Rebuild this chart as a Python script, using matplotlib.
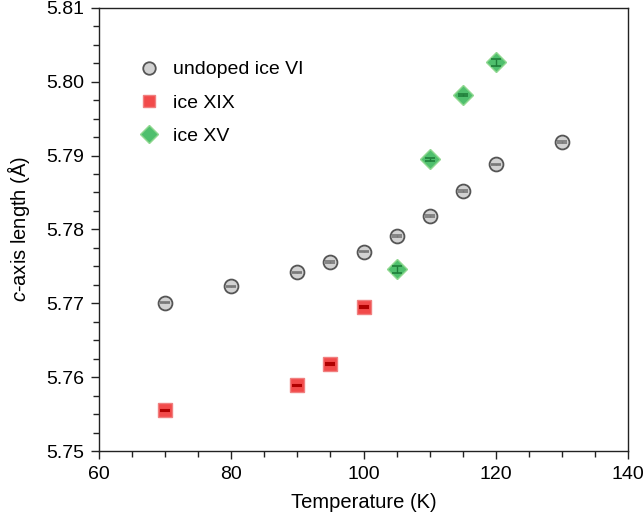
import numpy as np
import matplotlib
matplotlib.use("Agg")
import matplotlib.pyplot as plt
from matplotlib.ticker import MultipleLocator

plt.rcParams['font.family'] = ['Liberation Sans', 'DejaVu Sans']
plt.rcParams['mathtext.fontset'] = 'custom'
plt.rcParams['mathtext.rm'] = 'Liberation Sans'
plt.rcParams['mathtext.it'] = 'Liberation Sans:italic'

# ---- data ----
t_vi = [70, 80, 90, 95, 100, 105, 110, 115, 120, 130]
c_vi = [5.7701, 5.7723, 5.7742, 5.7756, 5.7770, 5.7791, 5.7818, 5.7852, 5.7888, 5.7918]
e_vi = [0.0001, 0.0001, 0.0001, 0.0001, 0.0001, 0.0001, 0.0001, 0.0001, 0.0001, 0.0001]

t_xix = [70, 90, 95, 100]
c_xix = [5.7555, 5.7589, 5.7618, 5.7695]
e_xix = [0.0001, 0.0001, 0.0001, 0.0001]

t_xv = [105, 110, 115, 120]
c_xv = [5.7746, 5.7895, 5.7982, 5.8026]
e_xv = [0.0005, 0.0002, 0.0001, 0.0005]

fig = plt.figure(figsize=(6.44, 5.19), dpi=100)
ax = fig.add_axes([0.154, 0.131, 0.821, 0.854])

# markers first, error bars drawn on top (they sit inside the symbols)
ax.plot(t_vi, c_vi, 'o', ms=10, mfc='#d2d2d2', mec='#555555', mew=1.3, label='undoped ice VI', zorder=3)
ax.plot(t_xix, c_xix, 's', ms=10, mfc='#f24a4a', mec='#f08080', mew=1, label='ice XIX', zorder=3)
ax.plot(t_xv, c_xv, 'D', ms=10, mfc='#4fbf6d', mec='#90d890', mew=1, label='ice XV', zorder=3)

ax.errorbar(t_vi, c_vi, yerr=e_vi, fmt='none', ecolor='#777777', elinewidth=1,
            capsize=3.5, capthick=1.2, zorder=4)
ax.errorbar(t_xix, c_xix, yerr=e_xix, fmt='none', ecolor='#b00000', elinewidth=1,
            capsize=3.5, capthick=1.5, zorder=4)
ax.errorbar(t_xv, c_xv, yerr=e_xv, fmt='none', ecolor='#1f7f3a', elinewidth=1,
            capsize=3.5, capthick=1.2, zorder=4)

ax.set_xlim(60, 140)
ax.set_ylim(5.75, 5.81)
ax.xaxis.set_major_locator(MultipleLocator(20))
ax.xaxis.set_minor_locator(MultipleLocator(5))
ax.yaxis.set_major_locator(MultipleLocator(0.01))
ax.yaxis.set_minor_locator(MultipleLocator(0.0025))
ax.yaxis.set_major_formatter(matplotlib.ticker.FormatStrFormatter('%.2f'))
ax.tick_params(which='both', direction='out', labelsize=14, color='#222222', width=1)
ax.tick_params(which='major', length=6, pad=5)
ax.tick_params(which='minor', length=4)
for s in ax.spines.values():
    s.set_linewidth(1)
    s.set_color('#222222')

ax.set_xlabel('Temperature (K)', fontsize=14.5, labelpad=7)
ax.set_ylabel('$c$-axis length (Å)', fontsize=14.5, labelpad=10)

ax.legend(loc='upper left', bbox_to_anchor=(0.04, 0.92), frameon=False,
          fontsize=14, handletextpad=0.6, labelspacing=0.8, handlelength=1.2,
          markerscale=0.9)

plt.savefig('out.png', dpi=100)
